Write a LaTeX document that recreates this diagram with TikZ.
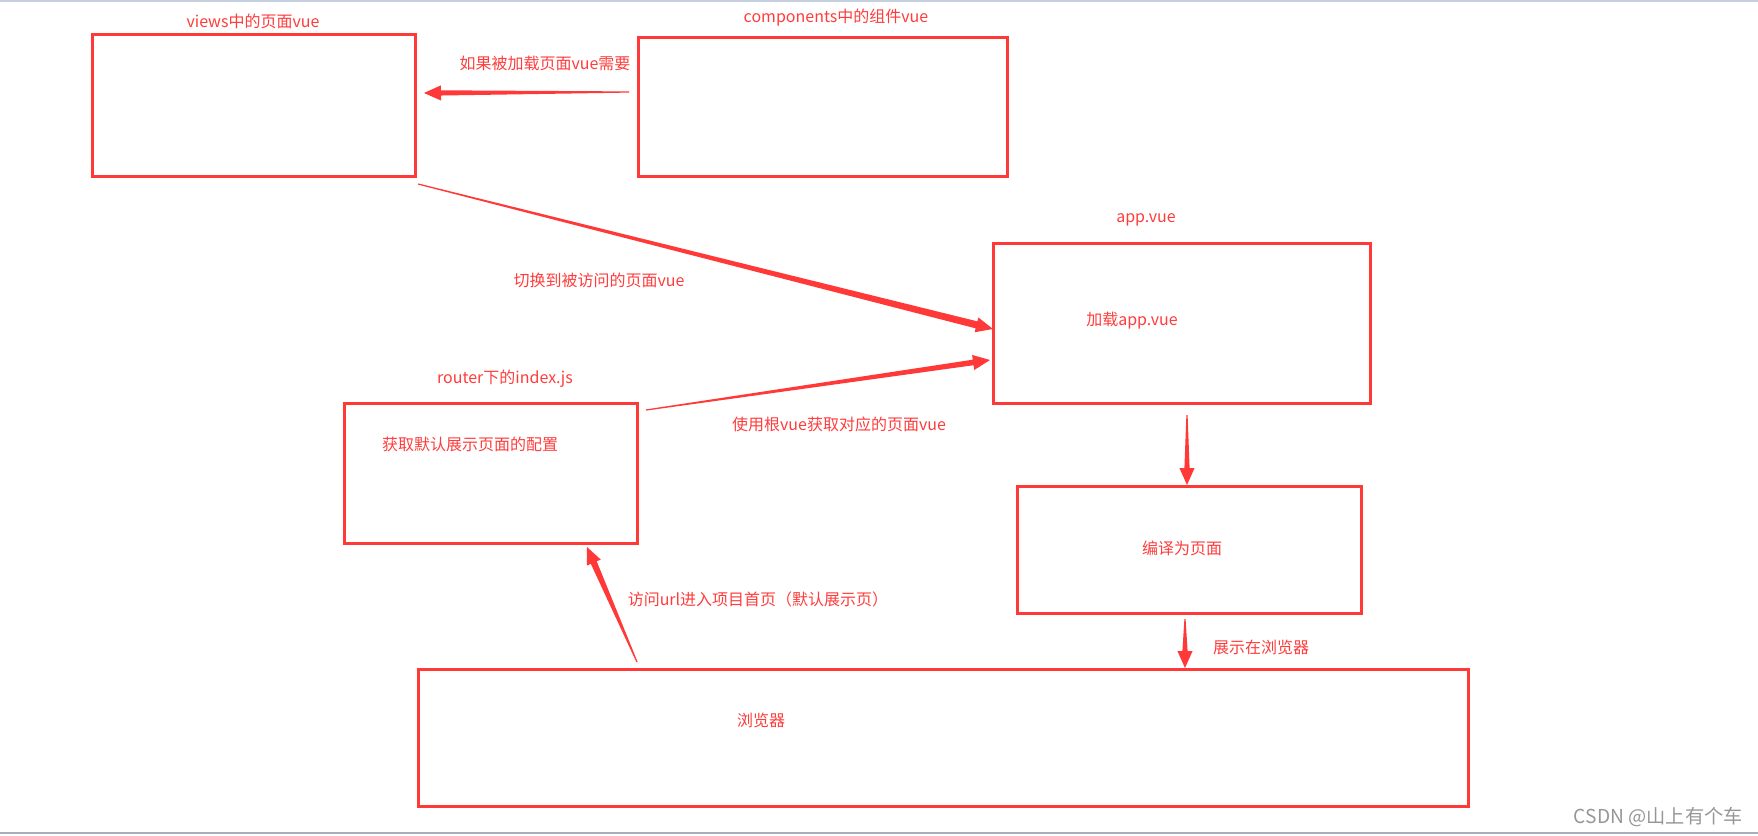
\documentclass[tikz,border=0pt]{standalone}
\usepackage{fontspec}
\newfontfamily\cjk{Noto Sans CJK SC}
\usepackage{xcolor}
\usepackage{tikz}
\usetikzlibrary{calc}
\usetikzlibrary{fit}

\definecolor{boxred}{RGB}{255,56,56}
\definecolor{textred}{RGB}{255,60,60}
\definecolor{markgray}{RGB}{150,150,150}
\definecolor{edgeblue}{RGB}{198,208,224}
\definecolor{edgegray}{RGB}{168,174,188}

\tikzset{
  box/.style={draw=boxred, line width=1.5pt, inner sep=0pt},
  lbl/.style={text=textred, font=\cjk\fontsize{8}{10}\selectfont, inner sep=0pt},
  watermark/.style={text=markgray, font=\cjk\fontsize{9.6}{11}\selectfont, inner sep=0pt, anchor=east},
}

% tapered arrow: thin tail at #2, head at #3, body half width #1
\newcommand\taperarrow[3][1.4pt]{%
  \path ($(#3)!8.5pt!(#2)$) coordinate (ah);
  \fill[boxred] ($(#2)!0.3pt!90:(#3)$) -- ($(ah)!#1!90:(#3)$)
    -- ($(ah)!3.8pt!90:(#3)$) -- (#3) -- ($(ah)!3.8pt!-90:(#3)$)
    -- ($(ah)!#1!-90:(#3)$) -- ($(#2)!0.3pt!-90:(#3)$) -- cycle;}

\begin{document}
\begin{tikzpicture}[x=0.5pt, y=-0.5pt]
    \useasboundingbox (0,0) rectangle (1758,836);
    \draw[edgeblue, line width=1pt] (0,1) -- (1758,1);
    \draw[edgegray, line width=1pt] (0,833) -- (1758,833);

    % boxes
    \node[box, fit={(92,34) (415,176)}] (views) {};
    \node[box, fit={(638,37) (1007,176)}] (comp) {};
    \node[box, fit={(993,243) (1370,403)}] (app) {};
    \node[box, fit={(344,403) (637,543)}] (router) {};
    \node[box, fit={(1017,486) (1361,613)}] (compile) {};
    \node[box, fit={(418,669) (1468,806)}] (browser) {};

    % texts
    \node[lbl] (viewsT) at (253,21) {views中的页面vue};
    \node[lbl] (compT) at (836,18) {components中的组件vue};
    \node[lbl] (appT) at (1146,220) {app.vue};
    \node[lbl] (routerT) at (505,379) {router下的index.js};
    \node[lbl] (routerIn) at (470,444) {获取默认展示页面的配置};
    \node[lbl] (appIn) at (1132,321) {加载app.vue};
    \node[lbl] (compileIn) at (1182,548) {编译为页面};
    \node[lbl] (browserIn) at (761,720) {浏览器};

    \node[lbl] (needT) at (545,63) {如果被加载页面vue需要};
    \node[lbl] (switchT) at (599,280) {切换到被访问的页面vue};
    \node[lbl] (rootT) at (839,424) {使用根vue获取对应的页面vue};
    \node[lbl] (visitT) at (758,599) {访问url进入项目首页（默认展示页）};
    \node[lbl] (showT) at (1261,647) {展示在浏览器};

    \node[watermark] (csdn) at (1743,817) {CSDN @山上有个车};

    % arrow ends
    \coordinate (compA) at (629,92);
    \coordinate (viewsA) at (424,93);
    \coordinate (viewsB) at (418,184);
    \coordinate (appA) at (993,329);
    \coordinate (routerA) at (646,410);
    \coordinate (appB) at (990,360);
    \coordinate (appC) at (1187,415);
    \coordinate (compileA) at (1187,485);
    \coordinate (compileB) at (1185,619);
    \coordinate (browserA) at (1185,668);
    \coordinate (browserB) at (637,662);
    \coordinate (routerB) at (587,547);

    \taperarrow[1.3pt]{compA}{viewsA}
    \taperarrow[1.8pt]{viewsB}{appA}
    \taperarrow[1.4pt]{routerA}{appB}
    \taperarrow[1.3pt]{appC}{compileA}
    \taperarrow[1.3pt]{compileB}{browserA}
    \taperarrow[1.6pt]{browserB}{routerB}
\end{tikzpicture}
\end{document}
